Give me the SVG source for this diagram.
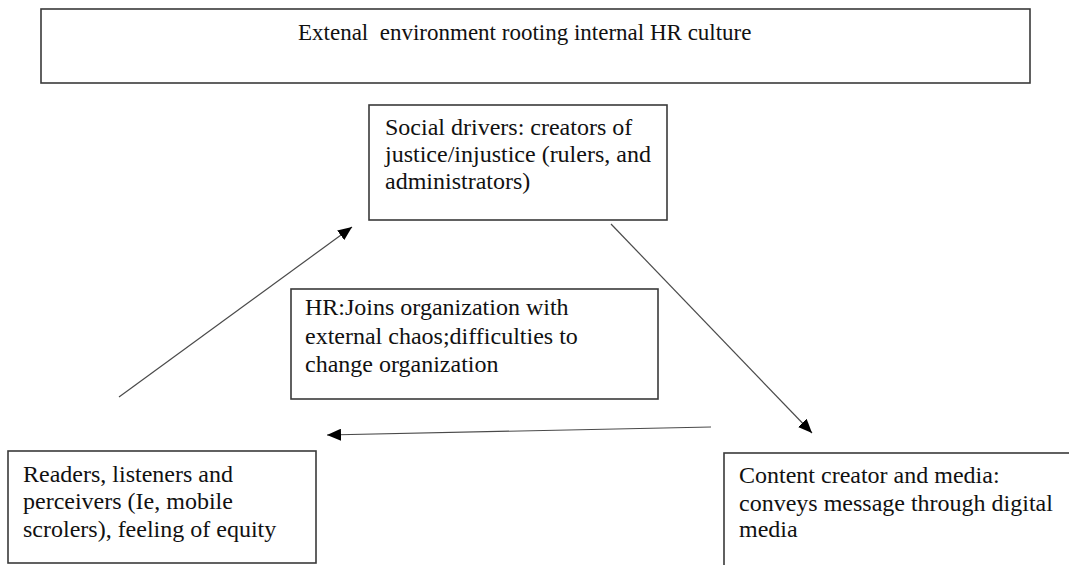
<svg xmlns="http://www.w3.org/2000/svg" width="1069" height="565" viewBox="0 0 1069 565">
  <style>
    .box { fill: #ffffff; stroke: #3a3a3a; stroke-width: 1.6; }
    .label { font-family: "Liberation Serif", "Times New Roman", serif; font-size: 24px; fill: #111111; }
    .title { font-size: 23px; }
    .link { fill: none; stroke: #4a4a4a; stroke-width: 1.2; }
  </style>
  <defs>
    <marker id="head" markerUnits="userSpaceOnUse" markerWidth="16" markerHeight="12" refX="14" refY="6" orient="auto">
      <path d="M0,0 L14,6 L0,12 Z" fill="#000000"/>
    </marker>
  </defs>

  <rect width="1069" height="565" fill="#ffffff"/>

  <g id="node-environment">
    <rect class="box" x="41" y="9" width="989" height="74"/>
    <text class="label title" x="298" y="40" xml:space="preserve">Extenal  environment rooting internal HR culture</text>
  </g>

  <g id="node-social-drivers">
    <rect class="box" x="369" y="105" width="298" height="115"/>
    <text class="label" x="385" y="135">Social drivers: creators of</text>
    <text class="label" x="385" y="162">justice/injustice (rulers, and</text>
    <text class="label" x="385" y="189">administrators)</text>
  </g>

  <g id="node-hr">
    <rect class="box" x="291" y="289" width="367" height="110"/>
    <text class="label" x="305" y="315">HR:Joins organization with</text>
    <text class="label" x="305" y="344">external chaos;difficulties to</text>
    <text class="label" x="305" y="372">change organization</text>
  </g>

  <g id="node-readers">
    <rect class="box" x="8" y="451" width="308" height="112"/>
    <text class="label" x="23" y="482">Readers, listeners and</text>
    <text class="label" x="23" y="509">perceivers (Ie, mobile</text>
    <text class="label" x="23" y="537">scrolers), feeling of equity</text>
  </g>

  <g id="node-content">
    <rect class="box" x="724" y="453" width="360" height="120"/>
    <text class="label" x="739" y="483">Content creator and media:</text>
    <text class="label" x="739" y="511">conveys message through digital</text>
    <text class="label" x="739" y="537">media</text>
  </g>

  <g id="connectors">
    <line class="link" x1="119" y1="397" x2="352" y2="227" marker-end="url(#head)"/>
    <line class="link" x1="611" y1="224" x2="812" y2="433" marker-end="url(#head)"/>
    <line class="link" x1="711" y1="427" x2="327" y2="435" marker-end="url(#head)"/>
  </g>
</svg>
